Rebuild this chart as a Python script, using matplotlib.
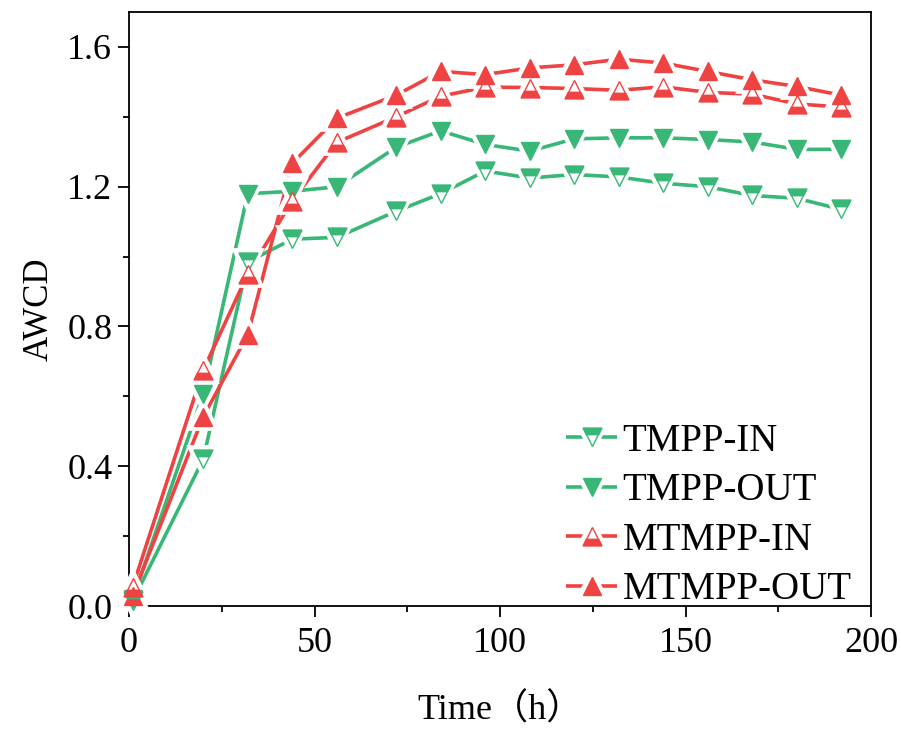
import numpy as np
import matplotlib
matplotlib.use("Agg")
import matplotlib.pyplot as plt
from matplotlib.path import Path
from matplotlib.legend_handler import HandlerTuple
from matplotlib.ticker import MultipleLocator

plt.rcParams["font.family"] = ["Liberation Serif", "Noto Sans CJK SC"]

GREEN = "#38B776"
RED = "#EF4343"

time_h = [1, 20, 32, 44, 56, 72, 84, 96, 108, 120, 132, 144, 156, 168, 180, 192]
tmpp_in = [0.015, 0.42, 0.985, 1.05, 1.055, 1.13, 1.18, 1.245, 1.225, 1.235,
           1.228, 1.21, 1.20, 1.175, 1.167, 1.135]
tmpp_out = [0.02, 0.607, 1.18, 1.187, 1.20, 1.313, 1.36, 1.321, 1.302, 1.337,
            1.34, 1.34, 1.335, 1.328, 1.307, 1.307]
mtmpp_in = [0.055, 0.675, 0.95, 1.16, 1.327, 1.40, 1.459, 1.485, 1.484, 1.481,
            1.476, 1.486, 1.47, 1.465, 1.437, 1.428]
mtmpp_out = [0.03, 0.542, 0.776, 1.267, 1.396, 1.462, 1.53, 1.521, 1.54, 1.549,
             1.565, 1.554, 1.53, 1.506, 1.487, 1.462]

# hollow triangles in the original have a thick band on the flat side
band_up = Path([(-1, -1), (1, -1), (0.65, -0.3), (-0.65, -0.3), (-1, -1)],
               [Path.MOVETO, Path.LINETO, Path.LINETO, Path.LINETO, Path.CLOSEPOLY])
band_down = Path([(-1, 1), (1, 1), (0.65, 0.3), (-0.65, 0.3), (-1, 1)],
                 [Path.MOVETO, Path.LINETO, Path.LINETO, Path.LINETO, Path.CLOSEPOLY])

SERIES = [
    ("TMPP-IN", tmpp_in, GREEN, "v", True),
    ("TMPP-OUT", tmpp_out, GREEN, "v", False),
    ("MTMPP-IN", mtmpp_in, RED, "^", True),
    ("MTMPP-OUT", mtmpp_out, RED, "^", False),
]

MS = 13.5
LW = 2.6

fig = plt.figure(figsize=(9.01, 7.29), dpi=100)
ax = fig.add_axes([0.1432, 0.1687, 0.8235, 0.8148])

handles = []
for label, y, color, mk, hollow in SERIES:
    ln, = ax.plot(time_h, y, color=color, lw=LW, solid_capstyle="butt", zorder=2)
    halo, = ax.plot(time_h, y, ls="none", marker=mk, ms=MS, mfc="white",
                    mec="white", mew=7, clip_on=False, zorder=3)
    if hollow:
        mrk, = ax.plot(time_h, y, ls="none", marker=mk, ms=MS, mfc="white",
                       mec=color, mew=1.0, clip_on=False, zorder=4)
        band = band_up if mk == "^" else band_down
        bnd, = ax.plot(time_h, y, ls="none", marker=band, ms=MS, mfc=color,
                       mec=color, mew=1.0, clip_on=False, zorder=5)
        handles.append(((ln, halo, mrk, bnd), label))
    else:
        mrk, = ax.plot(time_h, y, ls="none", marker=mk, ms=MS, mfc=color,
                       mec=color, mew=1.0, clip_on=False, zorder=4)
        handles.append(((ln, halo, mrk), label))

ax.set_xlim(0, 200)
ax.set_ylim(0, 1.7)
ax.xaxis.set_major_locator(MultipleLocator(50))
ax.xaxis.set_minor_locator(MultipleLocator(25))
ax.yaxis.set_major_locator(MultipleLocator(0.4))
ax.yaxis.set_minor_locator(MultipleLocator(0.2))
ax.yaxis.set_major_formatter(plt.FormatStrFormatter("%.1f"))
ax.tick_params(which="both", direction="out", width=1.3, top=False, right=False)
ax.tick_params(which="major", length=8, labelsize=26)
ax.tick_params(axis="x", which="major", pad=7)
ax.tick_params(axis="y", which="major", pad=4)
ax.tick_params(which="minor", length=4.5)
for sp in ax.spines.values():
    sp.set_linewidth(1.3)

ax.set_xlabel("Time（h）", fontsize=26, labelpad=24)
ax.set_ylabel("AWCD", fontsize=25, labelpad=8)

ax.legend([h for h, _ in handles], [l for _, l in handles],
          handler_map={tuple: HandlerTuple(ndivide=1)},
          loc="lower right", bbox_to_anchor=(0.995, -0.03), frameon=False,
          fontsize=28, labelspacing=0.32, handlelength=1.3, handletextpad=0.15,
          borderaxespad=0.0)

fig.savefig("out.png", dpi=100)
